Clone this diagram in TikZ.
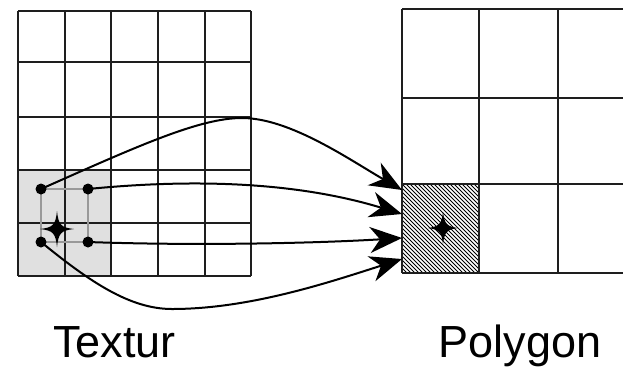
\documentclass[tikz,border=0pt]{standalone}
\usepackage{fontspec}
\setmainfont{Liberation Sans}
\usetikzlibrary{arrows.meta}
\definecolor{cellgray}{HTML}{E0E0E0}
\definecolor{gridink}{HTML}{1E1E1E}
\tikzset{
  gridline/.style={line width=2.4pt, draw=gridink},
  dotnode/.style={circle, fill=black, inner sep=0pt, minimum size=11pt},
  linkline/.style={line width=2pt, draw=black, -{Stealth[length=32pt, width=26pt, inset=10pt]}},
  thinframe/.style={line width=1.8pt, draw=black!40},
  hatch/.style={line width=1pt, draw=black},
  label/.style={font=\fontsize{45}{45}\selectfont, anchor=base, inner sep=0pt},
  starshape/.pic={
    \fill[black] (0,-#1) .. controls (1.5,-4) and (4,-1.5) .. (#1-1,0)
      .. controls (4,1.5) and (1.5,4) .. (0,#1)
      .. controls (-1.5,4) and (-4,1.5) .. (-#1+1,0)
      .. controls (-4,-1.5) and (-1.5,-4) .. cycle;
  }
}
\begin{document}
\begin{tikzpicture}[x=1pt, y=-1pt]
\useasboundingbox (0,0) rectangle (623,368);
\clip (0,0) rectangle (623,368);
% gray texture block
\fill[cellgray] (18,170) rectangle (111,276);
% left grid
\foreach \x in {18,65,111,158,205,251} \draw[gridline] (\x,11) -- (\x,276);
\foreach \y in {11,62,117,170,223,276} \draw[gridline] (18,\y) -- (251,\y);
% hatched cell on polygon
\begin{scope}
  \clip (402,184) rectangle (479,273);
  \foreach \x in {310,314,...,482} \draw[hatch] (\x,184) -- (\x+89,273);
\end{scope}
% right grid
\foreach \x in {402,479,558} \draw[gridline] (\x,9) -- (\x,273);
\foreach \y in {9,98,184,273} \draw[gridline] (402,\y) -- (640,\y);
% sample frame
\draw[thinframe] (41,189) rectangle (88,242);
% dots
\node[dotnode] (tl) at (41,189) {};
\node[dotnode] (tr) at (88,189) {};
\node[dotnode] (bl) at (41,242) {};
\node[dotnode] (br) at (88,242) {};
% stars
\pic at (57,229) {starshape=18};
\pic at (443,228) {starshape=16};
% targets
\coordinate (t1) at (402,190);
\coordinate (t2) at (402,214);
\coordinate (t3) at (402,238);
\coordinate (t4) at (402,259);
% connectors
\draw[linkline] (tl.center) .. controls (140,145) and (200,118) .. (242,118)
  .. controls (290,118) and (350,160) .. (t1);
\draw[linkline] (tr.center) .. controls (200,178) and (300,183) .. (t2);
\draw[linkline] (br.center) .. controls (200,246) and (320,243) .. (t3);
\draw[linkline] (bl.center) .. controls (90,282) and (130,309) .. (172,309)
  .. controls (250,309) and (330,282) .. (t4);
% labels
\node[label] (tex) at (114.5,357) {Textur};
\node[label] (pol) at (520,357) {Polygon};
\end{tikzpicture}
\end{document}
